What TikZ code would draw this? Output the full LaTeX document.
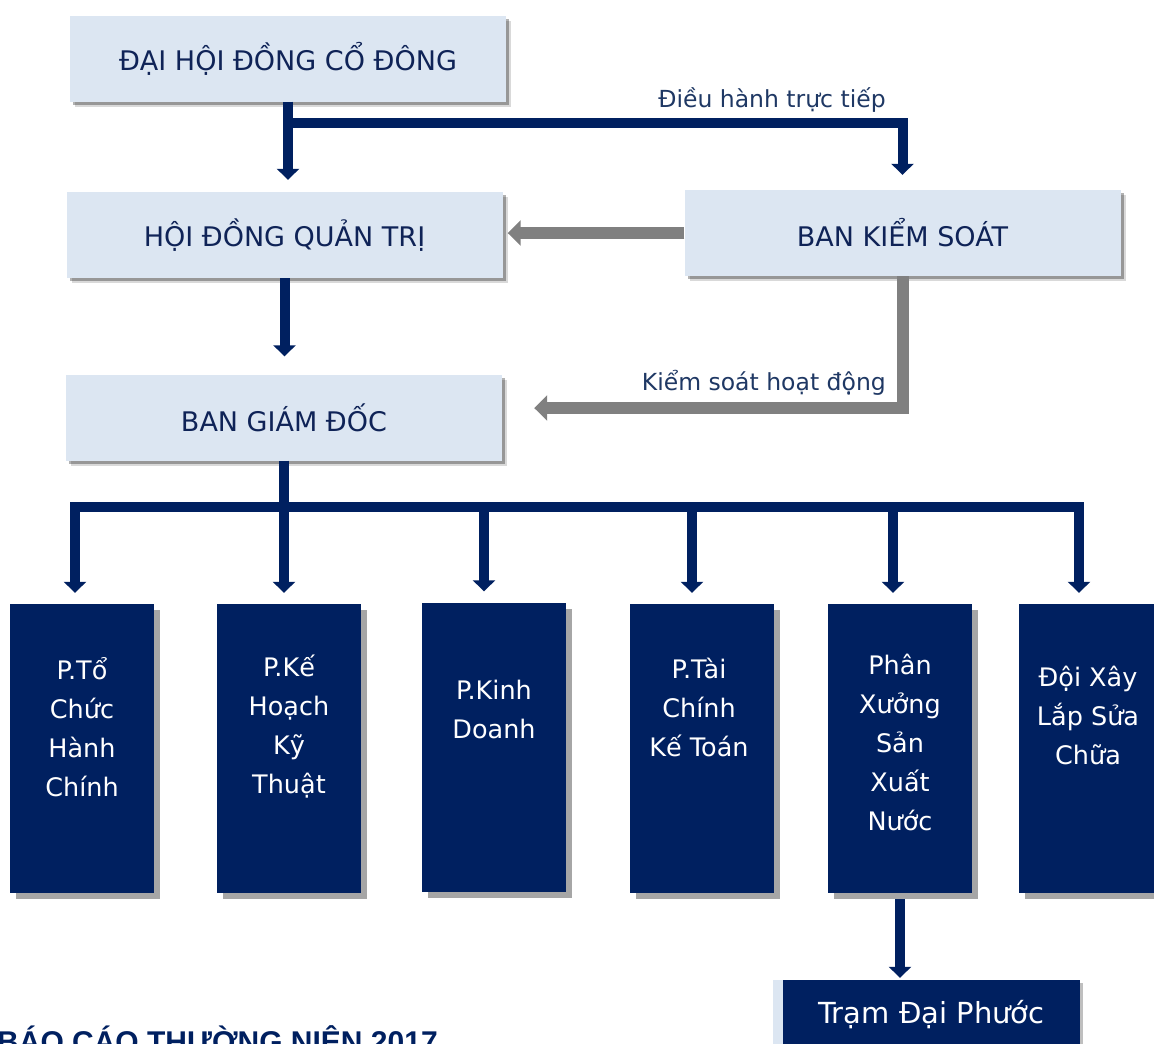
\documentclass[tikz,border=0pt]{standalone}
\usepackage{fontspec}
\setmainfont{DejaVu Sans}
\newfontfamily\reportfont{Liberation Sans}
\usetikzlibrary{arrows.meta,shadows,calc}
\definecolor{navy}{HTML}{002060}
\definecolor{navytext}{HTML}{0F2357}
\definecolor{labeltext}{HTML}{1F3864}
\definecolor{lightblue}{HTML}{DCE6F2}
\definecolor{arrowgray}{HTML}{808080}
\definecolor{shadowgray}{HTML}{A6A6A6}
\tikzset{
  lightbox/.style={fill=lightblue, text=navytext, inner sep=0pt,
    minimum width=436pt, minimum height=86pt,
    font=\fontsize{27}{32}\selectfont,
    drop shadow={shadow xshift=3pt, shadow yshift=-3pt, opacity=.30, fill=black},
    drop shadow={shadow xshift=5pt, shadow yshift=-5pt, opacity=.15, fill=black}},
  darkbox/.style={fill=navy, inner sep=0pt, minimum width=144pt, minimum height=289pt,
    drop shadow={shadow xshift=6pt, shadow yshift=-6pt, opacity=1, fill=shadowgray}},
  boxtext/.style={text=white, align=center, inner sep=0pt,
    font=\fontsize{25.5}{39}\selectfont},
  lbl/.style={text=labeltext, inner sep=0pt, font=\fontsize{23.5}{28}\selectfont},
  navyline/.style={draw=navy, line width=10pt},
  navyarrow/.style={navyline, -{Triangle[width=22pt,length=11pt]}},
  grayarrow/.style={draw=arrowgray, line width=12pt, -{Triangle[width=25pt,length=13pt]}},
}
\begin{document}
\begin{tikzpicture}[x=1pt,y=-1pt]
\useasboundingbox (0,0) rectangle (1154,1044);
\clip (0,0) rectangle (1154,1044);
\fill[white] (0,0) rectangle (1154,1044);

% light boxes
\node[lightbox] (dhdcd) at (288,58.5) {ĐẠI HỘI ĐỒNG CỔ ĐÔNG};
\node[lightbox] (hdqt) at (284.5,235) {HỘI ĐỒNG QUẢN TRỊ};
\node[lightbox] (bks) at (902.5,233) {BAN KIỂM SOÁT};
\node[lightbox] (bgd) at (284,417.5) {BAN GIÁM ĐỐC};

% dark boxes
\node[darkbox] (b1) at (82,748.5) {};
\node[darkbox] (b2) at (289,748.5) {};
\node[darkbox] (b3) at (494,747) {};
\node[darkbox] (b4) at (702,748.5) {};
\node[darkbox] (b5) at (900,748.5) {};
\node[darkbox] (b6) at (1091,748.5) {};

\node[boxtext] (t1) at (82,727) {P.Tổ\\Chức\\Hành\\Chính};
\node[boxtext] (t2) at (289,727) {P.Kế\\Hoạch\\Kỹ\\Thuật};
\node[boxtext] (t3) at (494,709) {P.Kinh\\Doanh};
\node[boxtext] (t4) at (699,707) {P.Tài\\Chính\\Kế Toán};
\node[boxtext] (t5) at (900,742) {Phân\\Xưởng\\Sản\\Xuất\\Nước};
\node[boxtext] (t6) at (1088,715) {Đội Xây\\Lắp Sửa\\Chữa};

% Tram
\node[fill=lightblue, inner sep=0pt, minimum width=300pt, minimum height=70pt] (tramback) at (923,1015) {};
\node[fill=navy, text=white, inner sep=0pt, minimum width=297pt, minimum height=70pt,
  font=\fontsize{29}{34}\selectfont,
  drop shadow={shadow xshift=3pt, shadow yshift=-3pt, opacity=.25, fill=black}] (tram) at (931.5,1015) {\raisebox{2pt}{Trạm Đại Phước}};

% connectors
\coordinate (topbus) at ($(dhdcd.south)+(0,21)$);
\draw[navyarrow, shorten >=12pt] (dhdcd.south) -- (dhdcd.south |- hdqt.north);
\draw[navyarrow, shorten >=15pt, line join=miter] (topbus) -| (bks.north);
\node[lbl] (lbl1) at (772,100) {Điều hành trực tiếp};

\draw[navyarrow, shorten >=18pt] (hdqt.south) -- (hdqt.south |- bgd.north);

\draw[grayarrow, shorten >=5pt] (bks.west) -- (bks.west -| hdqt.east);
\coordinate (bgdin) at ($(bgd.east)+(0,-9.5)$);
\draw[grayarrow, shorten >=32pt, line join=miter] (bks.south) |- (bgdin);
\node[lbl, anchor=east] (lbl2) at (886,383) {Kiểm soát hoạt động};

\coordinate (bus) at ($(bgd.south)+(0,46)$);
\coordinate (d1) at (75,506);
\coordinate (d3) at (484,506);
\coordinate (d4) at (692,506);
\coordinate (d5) at (893,506);
\coordinate (d6) at (1079,506);
\draw[navyarrow, shorten >=11pt] (bgd.south) -- (bgd.south |- b2.north);
\draw[navyarrow, shorten >=11pt, line join=miter] (bus) -| (d1 |- b1.north);
\draw[navyarrow, shorten >=11pt, line join=miter] (bus) -| (d6 |- b6.north);
\draw[navyarrow, shorten >=11pt] (d3) -- (d3 |- b3.north);
\draw[navyarrow, shorten >=11pt] (d4) -- (d4 |- b4.north);
\draw[navyarrow, shorten >=11pt] (d5) -- (d5 |- b5.north);

\draw[navyarrow, shorten <=6pt, shorten >=2pt] (b5.south) -- (b5.south |- tram.north);

% footer
\node[anchor=base west, inner sep=0pt, text=navy, font=\reportfont\bfseries\fontsize{30}{36}\selectfont] (report) at (-3,1052) {BÁO CÁO THƯỜNG NIÊN 2017};
\end{tikzpicture}
\end{document}
